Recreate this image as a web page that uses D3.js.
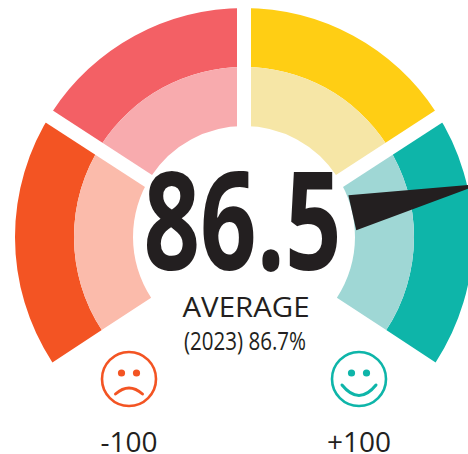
<!DOCTYPE html>
<html>
<head>
<meta charset="utf-8">
<script src="https://cdn.jsdelivr.net/npm/d3@7"></script>
<style>
    html, body { margin: 0; padding: 0; background: #fff; }
    svg { display: block; }
    text { fill: #231f20; font-family: 'Open Sans', sans-serif; text-anchor: middle; }
</style>
</head>
<body>
<div id="chart"></div>
<script>
'use strict';

// Data
const bandBreaks = [-100, -80.5, 0, 80.5, 100];
const outerColors = ['#f35423', '#f36065', '#ffce14', '#0eb5a9'];
const innerColors = ['#fbbbab', '#f8abae', '#f6e6a6', '#9fd7d5'];
const scoreValue = 86.5;
const scoreLabel = '86.5';
const captionLabel = 'AVERAGE';
const previousLabel = '(2023) 86.7%';
const endLabels = ['-100', '+100'];
const endValues = [-100, 100];

// Config
const w = 468;
const h = 454;
const cx = 244;
const cy = 237;
const rHole = 111;
const rMid = 170;
const rOuter = 229;
const gapW = 14;

const svg = d3.select('#chart')
    .append('svg')
    .attr('width', w)
    .attr('height', h);

// Value to degrees clockwise from the top
const angleScale = d3.scaleLinear()
    .domain(bandBreaks)
    .range([-123.2, -57, 0, 57, 123.2]);

const rad = d => angleScale(d) * Math.PI / 180;

const g = svg.append('g')
    .attr('transform', `translate(${cx},${cy})`);

const bands = d3.pairs(bandBreaks);
const outerArc = d3.arc().innerRadius(rMid).outerRadius(rOuter);
const innerArc = d3.arc().innerRadius(rHole).outerRadius(rMid);

g.selectAll('.outerBand')
    .data(bands)
    .join('path')
    .attr('class', 'outerBand')
    .attr('fill', (d, i) => outerColors[i])
    .attr('d', d => outerArc({startAngle: rad(d[0]), endAngle: rad(d[1])}));

g.selectAll('.innerBand')
    .data(bands)
    .join('path')
    .attr('class', 'innerBand')
    .attr('fill', (d, i) => innerColors[i])
    .attr('d', d => innerArc({startAngle: rad(d[0]), endAngle: rad(d[1])}));

// White gaps between the bands, they cross a little under the centre
const gapOrigin = d => (d === 0 ? 0 : 6);
g.selectAll('.gap')
    .data(bandBreaks.slice(1, -1))
    .join('line')
    .attr('class', 'gap')
    .attr('stroke', '#fff')
    .attr('stroke-width', gapW)
    .attr('x1', 0)
    .attr('y1', d => gapOrigin(d))
    .attr('x2', d => Math.sin(rad(d)) * (rOuter + 20))
    .attr('y2', d => gapOrigin(d) - Math.cos(rad(d)) * (rOuter + 20));

// Needle
const needleBase = 111;
const needleTip = 243;
const needleW = 36;
g.append('path')
    .attr('fill', '#231f20')
    .attr('transform', `rotate(${angleScale(scoreValue)})`)
    .attr('d', d3.line()([
        [-needleW / 2, -needleBase],
        [needleW / 2, -needleBase],
        [0, -needleTip]
    ]) + 'Z');

// Labels
svg.append('text')
    .attr('x', 242.5)
    .attr('y', 270)
    .attr('font-size', 136)
    .attr('font-weight', 700)
    .attr('textLength', 198)
    .attr('lengthAdjust', 'spacingAndGlyphs')
    .text(scoreLabel);

svg.append('text')
    .attr('x', 246)
    .attr('y', 317)
    .attr('font-size', 27)
    .attr('textLength', 127)
    .attr('lengthAdjust', 'spacingAndGlyphs')
    .text(captionLabel);

svg.append('text')
    .attr('x', 245)
    .attr('y', 350)
    .attr('font-size', 25)
    .attr('textLength', 122)
    .attr('lengthAdjust', 'spacingAndGlyphs')
    .text(previousLabel);

// Faces
const faceX = d3.scaleLinear().domain(endValues).range([129, 359]);
const faceY = 379;
const faceR = 27;
const faceColors = [outerColors[0], outerColors[3]];
const mouths = ['M-13.5,15 Q0,3 13.5,15', 'M-17,6 Q0,27 17,6'];

const faces = svg.selectAll('.face')
    .data(endValues)
    .join('g')
    .attr('class', 'face')
    .attr('transform', d => `translate(${faceX(d)},${faceY})`);

faces.append('circle')
    .attr('r', faceR)
    .attr('fill', 'none')
    .attr('stroke-width', 2.6)
    .attr('stroke', (d, i) => faceColors[i]);

faces.selectAll('.eye')
    .data((d, i) => [-7.5, 7.5].map(x => ({x: x, color: faceColors[i]})))
    .join('circle')
    .attr('class', 'eye')
    .attr('cx', d => d.x)
    .attr('cy', -6)
    .attr('r', 3.6)
    .attr('fill', d => d.color);

faces.append('path')
    .attr('fill', 'none')
    .attr('stroke-width', 3)
    .attr('stroke-linecap', 'round')
    .attr('stroke', (d, i) => faceColors[i])
    .attr('d', (d, i) => mouths[i]);

svg.selectAll('.endLabel')
    .data(endValues)
    .join('text')
    .attr('class', 'endLabel')
    .attr('x', d => faceX(d))
    .attr('y', 452)
    .attr('font-size', 28)
    .text((d, i) => endLabels[i]);
</script>
</body>
</html>
